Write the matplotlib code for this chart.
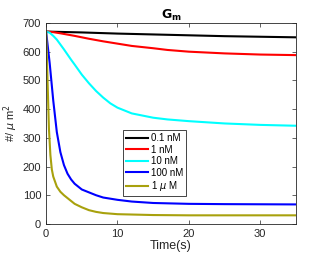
import matplotlib
matplotlib.use("Agg")
import matplotlib.pyplot as plt

plt.rcParams['font.family'] = ['Liberation Sans', 'DejaVu Sans']

labels = ['0.1 nM', '1 nM', '10 nM', '100 nM', '1 $\\mu$ M']
colors = ['black', 'red', 'cyan', 'blue', (0.66, 0.63, 0.05)]

t_black = [0, 5, 10, 15, 20, 25, 30, 35]
y_black = [670, 667, 663, 660, 657, 654, 652, 650]

t_red = [0, 1, 2, 4, 6, 8, 10, 12, 15, 17, 20, 25, 30, 35]
y_red = [670, 668, 664, 655, 645, 636, 628, 620, 612, 606, 600, 594, 590, 588]

t_cyan = [0, 0.5, 1, 1.5, 2, 2.5, 3, 3.5, 4, 5, 6, 7, 8, 9, 10, 12, 15, 17, 20, 25, 30, 35]
y_cyan = [670, 666, 655, 642, 625, 608, 590, 572, 555, 520, 490, 463, 440, 420, 405, 385,
          370, 364, 358, 350, 345, 342]

t_blue = [0, 0.5, 1, 1.5, 2, 2.5, 3, 3.5, 4, 5, 6, 7, 8, 10, 12, 15, 20, 25, 35]
y_blue = [670, 560, 430, 320, 250, 205, 175, 155, 140, 120, 110, 100, 92, 84, 78, 73, 70, 69, 68]

t_olive = [0, 0.2, 0.4, 0.6, 0.8, 1, 1.5, 2, 2.5, 3, 4, 5, 6, 7, 8, 10, 15, 20, 35]
y_olive = [670, 500, 330, 240, 190, 165, 130, 112, 100, 90, 70, 58, 48, 42, 38, 34, 31, 30, 30]

series = [(t_black, y_black), (t_red, y_red), (t_cyan, y_cyan),
          (t_blue, y_blue), (t_olive, y_olive)]

fig = plt.figure(figsize=(3.27, 2.58), dpi=100)
ax = fig.add_axes([0.141, 0.132, 0.764, 0.779])

for (t, y), c, lab in zip(series, colors, labels):
    ax.plot(t, y, color=c, lw=1.5, label=lab)

ax.set_xlim(0, 35)
ax.set_ylim(0, 700)
ax.set_xticks([0, 10, 20, 30])
ax.set_yticks(range(0, 701, 100))
ax.tick_params(direction='in', top=True, right=True, labelsize=8, length=3, width=0.5,
               labelcolor='#262626', color='#262626')
for s in ax.spines.values():
    s.set_linewidth(0.6)
    s.set_color('#262626')

ax.set_title('$\\mathbf{G_m}$', fontsize=9, pad=3)
ax.set_xlabel('Time(s)', fontsize=9, labelpad=1, color='#262626')
ax.set_ylabel('#/ $\\mu$ m$^2$', fontsize=8, labelpad=2, color='#262626')

leg = ax.legend(loc='upper left', bbox_to_anchor=(0.29, 0.49), fontsize=7,
                fancybox=False, framealpha=1, edgecolor='#262626',
                handlelength=2.2, handletextpad=0.3, labelspacing=0.15,
                borderpad=0.3)
leg.get_frame().set_linewidth(0.6)

fig.savefig('out.png', dpi=100)
